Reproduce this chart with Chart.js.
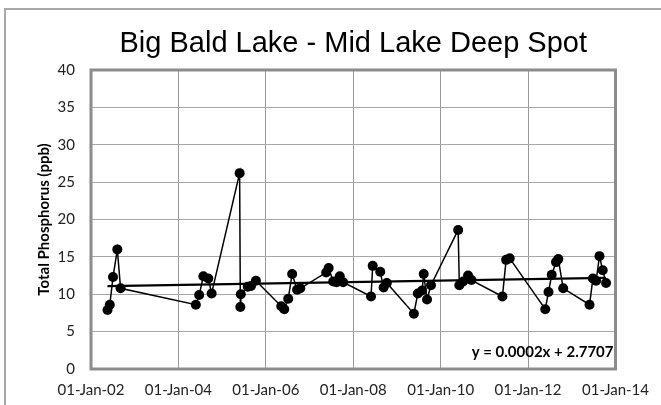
<!DOCTYPE html>
<html>
<head>
<meta charset="utf-8">
<script src="https://cdn.jsdelivr.net/npm/chart.js@4"></script>
<style>
  html, body { margin: 0; padding: 0; background: #fff; }
  #wrap { width: 661px; height: 405px; position: relative; }
</style>
</head>
<body>
<div id="wrap"><canvas id="chart" width="661" height="405"></canvas></div>
<script>
// sample dates and total phosphorus (ppb)
const sampleDates = [
  '2002-05-19', '2002-06-07', '2002-07-04', '2002-08-09', '2002-09-05',
  '2004-05-26', '2004-06-23', '2004-07-28', '2004-09-07', '2004-10-05',
  '2005-05-27', '2005-06-02', '2005-06-06', '2005-08-03', '2005-08-30', '2005-10-10',
  '2006-05-10', '2006-06-04', '2006-07-07', '2006-08-09', '2006-09-19', '2006-10-16',
  '2007-05-20', '2007-06-10', '2007-07-18', '2007-08-15', '2007-09-11', '2007-10-09',
  '2008-05-29', '2008-06-12', '2008-08-14', '2008-09-11', '2008-10-08',
  '2009-05-22', '2009-06-24', '2009-07-30', '2009-08-12', '2009-09-09', '2009-10-12',
  '2010-05-27', '2010-06-06', '2010-07-08', '2010-08-18', '2010-09-15',
  '2011-06-01', '2011-07-02', '2011-08-01',
  '2012-05-24', '2012-06-20', '2012-07-17', '2012-08-22', '2012-09-10', '2012-10-21',
  '2013-05-29', '2013-06-26', '2013-07-23', '2013-08-20', '2013-09-16', '2013-10-14'
];
const phosphorus = [
  7.9, 8.6, 12.3, 16.0, 10.8,
  8.6, 9.9, 12.4, 12.1, 10.1,
  26.2, 8.3, 10.0, 11.0, 11.1, 11.8,
  8.4, 8.0, 9.4, 12.7, 10.6, 10.8,
  12.9, 13.5, 11.7, 11.6, 12.4, 11.6,
  9.7, 13.8, 13.0, 10.9, 11.5,
  7.4, 10.1, 10.5, 12.7, 9.3, 11.2,
  18.6, 11.2, 11.7, 12.5, 11.9,
  9.7, 14.6, 14.8,
  8.0, 10.3, 12.6, 14.3, 14.7, 10.8,
  8.6, 12.1, 11.8, 15.1, 13.2, 11.5
];

const xTickDates = ['2002-01-01', '2004-01-01', '2006-01-01', '2008-01-01', '2010-01-01', '2012-01-01', '2014-01-01'];
const xTickLabels = ['01-Jan-02', '01-Jan-04', '01-Jan-06', '01-Jan-08', '01-Jan-10', '01-Jan-12', '01-Jan-14'];
const yTicks = [0, 5, 10, 15, 20, 25, 30, 35, 40];

const titleText = 'Big Bald Lake - Mid Lake Deep Spot';
const yTitle = 'Total Phosphorus (ppb)';
const trendText = 'y = 0.0002x + 2.7707';

// Excel-style day serial, same x the trendline equation uses
function serial(s) {
  const [y, m, d] = s.split('-').map(Number);
  return (Date.UTC(y, m - 1, d) - Date.UTC(1899, 11, 30)) / 86400000;
}

const xs = sampleDates.map(serial);
const points = xs.map((x, i) => ({ x: x, y: phosphorus[i] }));
const tickVals = xTickDates.map(serial);

// least squares trendline over the samples
function linearFit(x, y) {
  const n = x.length;
  const mx = x.reduce((a, b) => a + b, 0) / n;
  const my = y.reduce((a, b) => a + b, 0) / n;
  let sxy = 0, sxx = 0;
  for (let i = 0; i < n; i++) {
    sxy += (x[i] - mx) * (y[i] - my);
    sxx += (x[i] - mx) * (x[i] - mx);
  }
  const slope = sxy / sxx;
  return { slope: slope, intercept: my - slope * mx };
}
const fit = linearFit(xs, phosphorus);
const x0 = Math.min(...xs), x1 = Math.max(...xs);
const trendPoints = [
  { x: x0, y: fit.intercept + fit.slope * x0 },
  { x: x1, y: fit.intercept + fit.slope * x1 }
];

const tickFont = { family: 'Lato, "Open Sans", sans-serif', size: 15 };

const decorations = {
  id: 'decorations',
  beforeDraw(chart) {
    const ctx = chart.ctx;
    ctx.save();
    ctx.fillStyle = '#fff';
    ctx.fillRect(0, 0, chart.width, chart.height);
    // outer chart frame
    ctx.strokeStyle = '#a8a8a8';
    ctx.lineWidth = 2;
    ctx.strokeRect(5, 9, chart.width + 20, chart.height + 20);
    // title
    ctx.fillStyle = '#000';
    ctx.font = '29px "Liberation Sans", Arial, sans-serif';
    ctx.textAlign = 'center';
    ctx.textBaseline = 'alphabetic';
    const a = chart.chartArea;
    ctx.fillText(titleText, (a.left + a.right) / 2, 52);
    ctx.restore();
  },
  beforeDatasetsDraw(chart) {
    const ctx = chart.ctx;
    const a = chart.chartArea;
    ctx.save();
    ctx.strokeStyle = '#8c8c8c';
    ctx.lineWidth = 3;
    ctx.strokeRect(a.left, a.top, a.right - a.left, a.bottom - a.top);
    ctx.restore();
  },
  afterDatasetsDraw(chart) {
    const ctx = chart.ctx;
    const a = chart.chartArea;
    ctx.save();
    ctx.fillStyle = '#000';
    ctx.font = 'bold 15px Lato, "Open Sans", sans-serif';
    ctx.textAlign = 'right';
    ctx.textBaseline = 'middle';
    ctx.fillText(trendText, a.right - 2, a.bottom - 17);
    ctx.restore();
  }
};

new Chart(document.getElementById('chart'), {
  type: 'scatter',
  data: {
    datasets: [
      {
        label: 'TP',
        data: points,
        showLine: true,
        borderColor: '#000',
        borderWidth: 1.5,
        backgroundColor: '#000',
        pointRadius: 5,
        pointBorderWidth: 0,
        order: 1
      },
      {
        label: 'Linear (TP)',
        data: trendPoints,
        showLine: true,
        borderColor: '#000',
        borderWidth: 2.2,
        pointRadius: 0,
        order: 2
      }
    ]
  },
  options: {
    responsive: false,
    animation: false,
    layout: { padding: { top: 70, right: 38, left: 0, bottom: 0 } },
    plugins: {
      legend: { display: false },
      tooltip: { enabled: false },
      title: { display: false }
    },
    scales: {
      x: {
        type: 'linear',
        min: tickVals[0],
        max: tickVals[tickVals.length - 1],
        afterBuildTicks(scale) {
          scale.ticks = tickVals.map(v => ({ value: v }));
        },
        afterFit(scale) { scale.height = 36; },
        ticks: {
          autoSkip: false,
          maxRotation: 0,
          padding: 12,
          color: '#222',
          font: tickFont,
          callback(value) {
            const i = tickVals.indexOf(value);
            return i >= 0 ? xTickLabels[i] : '';
          }
        },
        grid: { color: '#9a9a9a', lineWidth: 1, drawTicks: false },
        border: { display: false }
      },
      y: {
        min: 0,
        max: 40,
        afterBuildTicks(scale) {
          scale.ticks = yTicks.map(v => ({ value: v }));
        },
        afterFit(scale) { scale.width = 91; },
        ticks: { padding: 16, color: '#222', font: tickFont },
        grid: { color: '#a8a8a8', lineWidth: 1, drawTicks: false },
        border: { display: false },
        title: {
          display: true,
          text: yTitle,
          color: '#000',
          font: { family: 'Lato, "Open Sans", sans-serif', size: 15, weight: 'bold' },
          padding: { top: 35, bottom: 0 }
        }
      }
    }
  },
  plugins: [decorations]
});
</script>
</body>
</html>
